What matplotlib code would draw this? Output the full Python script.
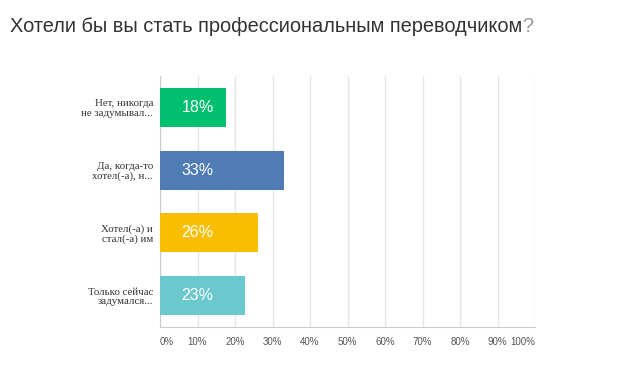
import matplotlib
matplotlib.use("Agg")
import matplotlib.pyplot as plt

categories = ["Нет, никогда\nне задумывал...", "Да, когда-то\nхотел(-а), н...",
              "Хотел(-а) и\nстал(-а) им", "Только сейчас\nзадумался..."]
values = [17.6, 33.1, 26.2, 22.6]
labels = ["18%", "33%", "26%", "23%"]
colors = ["#00BF6F", "#507CB6", "#F9BE00", "#6BC8CD"]
ticks = [0, 10, 20, 30, 40, 50, 60, 70, 80, 90, 100]
tick_labels = [f"{t}%" for t in ticks]

W, H = 640, 386
fig = plt.figure(figsize=(6.4, 3.86), dpi=100)
ax = fig.add_axes([160 / W, 1 - 327 / H, 375 / W, 251 / H])

y = list(range(len(categories)))
ax.barh(y, values, height=0.62, color=colors, zorder=3)
ax.set_ylim(len(categories) - 0.5, -0.5)
ax.set_xlim(0, 100)
for yi, lab in zip(y, labels):
    ax.text(10, yi, lab, color="white", fontsize=11.5, ha="center", va="center",
            family="Liberation Sans", zorder=4)

ax.set_yticks(y)
ax.set_yticklabels(categories, family="Liberation Serif", fontsize=7.8, color="#333333",
                   ha="right", linespacing=1.1)
ax.tick_params(axis="y", length=0, pad=5)

ax.set_xticks(ticks)
ax.set_xticklabels(tick_labels, family="Liberation Sans", fontsize=7, color="#555555")
ax.tick_params(axis="x", length=0, pad=7)
xl = ax.get_xticklabels()
xl[0].set_ha("left")
xl[-1].set_ha("right")

ax.grid(axis="x", color="#e6e6e6", linewidth=1, zorder=0)
for s in ["top", "right"]:
    ax.spines[s].set_visible(False)
ax.spines["left"].set_color("#cccccc")
ax.spines["bottom"].set_color("#cccccc")

t = fig.text(10 / W, 1 - 27 / H, "Хотели бы вы стать профессиональным переводчиком",
             family="Liberation Sans", fontsize=14.4, color="#333333", va="center", ha="left")
fig.canvas.draw()
bb = t.get_window_extent()
fig.text(bb.x1 / W, 1 - 27 / H, "?", family="Liberation Sans", fontsize=14.4,
         color="#999999", va="center", ha="left")

fig.savefig("out.png", dpi=100, facecolor="white")
